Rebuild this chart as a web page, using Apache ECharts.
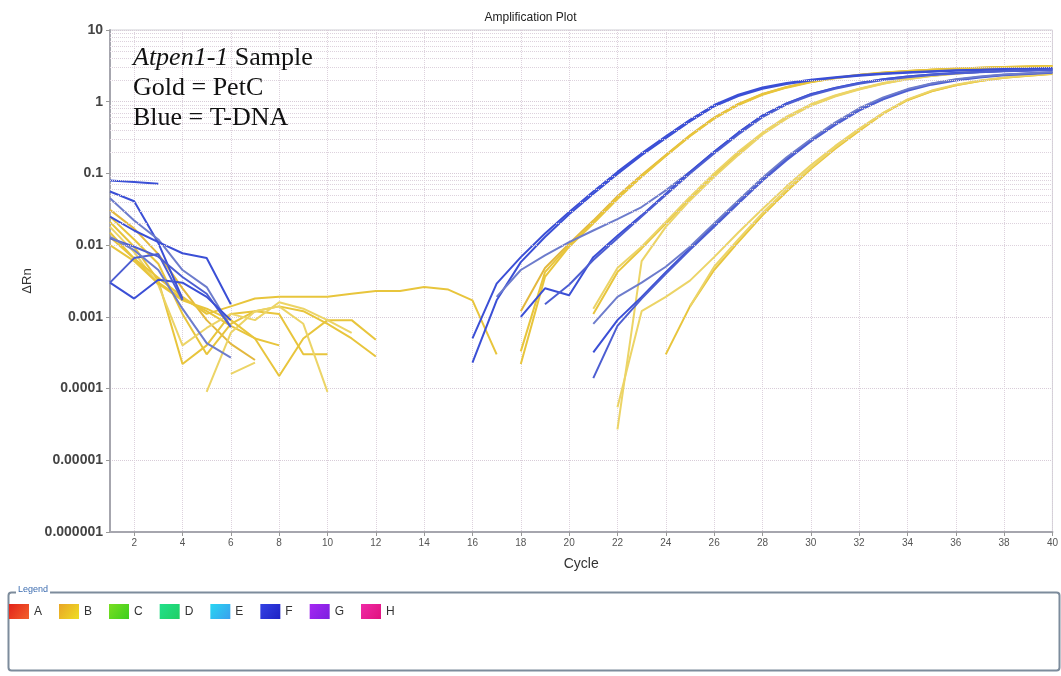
<!DOCTYPE html>
<html>
<head>
<meta charset="utf-8">
<script src="https://cdn.jsdelivr.net/npm/echarts@6/dist/echarts.min.js"></script>
<style>
html,body{margin:0;padding:0;background:#fff;}
#chart{width:1061px;height:676px;}
</style>
</head>
<body>
<div id="chart"></div>
<script>
const _ = null;

// Cycle categories (x axis)
const cycles = [1,2,3,4,5,6,7,8,9,10,11,12,13,14,15,16,17,18,19,20,21,22,23,24,25,26,27,28,29,30,31,32,33,34,35,36,37,38,39,40];

// Legend rows of the plate
const legendNames = ['A','B','C','D','E','F','G','H'];

// Y tick values (log scale)
const yTickValues = [0.000001, 0.00001, 0.0001, 0.001, 0.01, 0.1, 1, 10];

// ---- Blue wells (row F, T-DNA) : ΔRn per cycle 1..40 (null = not plotted) ----
const F_a = [0.08,0.076,0.072,_,_,_,_,_,_,_,_,_,_,_,_,
  0.0005,0.0029,0.0068,0.0145,0.029,0.056,0.105,0.19,0.33,0.56,0.9,1.25,1.58,1.82,2.02,2.2,2.35,2.48,2.58,2.67,2.74,2.8,2.86,2.9,2.95];
const F_b = [0.056,0.041,0.0107,0.0018,_,_,_,_,_,_,_,_,_,_,_,
  0.00023,0.0017,0.0058,0.013,0.027,0.052,0.098,0.18,0.31,0.53,0.86,1.2,1.52,1.77,1.97,2.15,2.3,2.43,2.53,2.62,2.7,2.76,2.82,2.86,2.9];
const F_c = [0.045,0.022,0.012,0.0045,0.0026,0.00072,_,_,_,_,_,_,_,_,_,_,
  0.0019,0.0045,0.0072,0.011,0.016,0.023,0.034,0.058,0.105,0.2,0.37,0.64,0.95,1.27,1.56,1.82,2.05,2.25,2.4,2.52,2.6,2.68,2.74,2.8];
const F_d = [0.025,0.016,0.011,0.0077,0.0066,0.0015,_,_,_,_,_,_,_,_,_,_,_,
  0.001,0.0025,0.002,0.0068,0.0135,0.026,0.052,0.105,0.2,0.37,0.64,0.95,1.27,1.56,1.82,2.05,2.25,2.4,2.52,2.6,2.68,2.74,2.8];
const F_e = [0.0125,0.0095,0.0069,0.0036,0.0021,0.00072,_,_,_,_,_,_,_,_,_,_,_,_,
  0.0015,0.0028,0.0062,0.0125,0.025,0.05,0.1,0.19,0.35,0.61,0.92,1.23,1.52,1.78,2.0,2.2,2.36,2.48,2.57,2.65,2.71,2.77];
const F_f = [0.003,0.0018,0.0033,0.003,0.0019,0.0009,_,_,_,_,_,_,_,_,_,_,_,_,_,_,
  0.00032,0.0009,0.0019,0.0042,0.009,0.019,0.04,0.083,0.16,0.29,0.49,0.78,1.12,1.47,1.78,2.03,2.22,2.37,2.48,2.57];
const F_g = [0.003,0.0066,0.0075,0.0017,_,_,_,_,_,_,_,_,_,_,_,_,_,_,_,_,
  0.00014,0.00075,0.0018,0.004,0.0086,0.018,0.038,0.079,0.153,0.28,0.47,0.75,1.08,1.42,1.73,1.98,2.18,2.33,2.44,2.53];
const F_h = [0.013,0.0085,0.0045,0.0013,0.00043,0.00027,_,_,_,_,_,_,_,_,_,_,_,_,_,_,
  0.0008,0.0019,0.003,0.005,0.0095,0.02,0.042,0.087,0.168,0.3,0.51,0.81,1.15,1.5,1.8,2.05,2.24,2.39,2.5,2.6];

// ---- Gold wells (row B, PetC) ----
const B_a = [0.031,0.017,0.0075,0.0025,0.0009,0.00042,0.00025,_,_,_,_,_,_,_,_,_,_,
  0.0012,0.0048,0.0105,0.022,0.048,0.095,0.18,0.34,0.6,0.93,1.28,1.6,1.9,2.15,2.37,2.55,2.69,2.8,2.9,2.98,3.05,3.1,3.15];
const B_b = [0.021,0.0095,0.0032,0.00022,0.0004,0.0011,0.0012,0.0014,0.0012,0.0008,0.0005,0.00028,_,_,_,_,_,
  0.00022,0.0036,0.0095,0.02,0.044,0.09,0.175,0.33,0.58,0.9,1.25,1.57,1.87,2.12,2.34,2.52,2.66,2.78,2.88,2.96,3.02,3.08,3.13];
const B_c = [0.013,0.0065,0.003,0.0018,0.0012,0.00075,0.0005,0.00015,0.0005,0.0009,0.0009,0.00048,_,_,_,_,_,
  0.00033,0.0042,0.01,0.021,0.046,0.092,0.178,0.335,0.59,0.92,1.27,1.59,1.89,2.14,2.36,2.54,2.68,2.79,2.89,2.97,3.04,3.09,3.14];
const B_d = [0.025,0.012,0.0055,0.0011,0.0003,0.0008,0.0012,0.0011,0.0003,0.0003,_,_,_,_,_,_,_,_,_,_,
  0.0011,0.0042,0.009,0.02,0.045,0.095,0.19,0.36,0.6,0.9,1.2,1.5,1.8,2.07,2.3,2.48,2.64,2.78,2.9,3.0];
const B_e = [_,_,_,_,0.00009,0.0006,0.0012,0.0014,0.0008,0.00009,_,_,_,_,_,_,_,_,_,_,
  0.0013,0.0048,0.0095,0.021,0.047,0.1,0.2,0.37,0.62,0.92,1.22,1.52,1.82,2.1,2.32,2.5,2.66,2.8,2.92,3.02];
const B_f = [_,_,_,_,_,0.00016,0.00023,_,_,_,_,_,_,_,_,_,_,_,_,_,_,
  0.000027,0.006,0.018,0.042,0.09,0.18,0.35,0.58,0.88,1.18,1.48,1.78,2.05,2.28,2.46,2.62,2.76,2.88,2.98];
const B_g = [0.018,0.008,0.0028,0.0004,0.0007,0.0011,0.0009,0.0016,0.0013,0.0009,0.0006,_,_,_,_,_,_,_,_,_,_,
  0.000055,0.0012,0.0019,0.0032,0.0068,0.015,0.032,0.066,0.13,0.24,0.42,0.7,1.06,1.4,1.7,1.95,2.15,2.3,2.45];
const B_h = [0.01,0.006,0.0029,0.0017,0.0013,0.0009,0.0005,0.0004,_,_,_,_,_,_,_,_,_,_,_,_,_,_,_,
  0.0003,0.0014,0.0045,0.011,0.026,0.056,0.115,0.22,0.39,0.68,1.05,1.4,1.7,1.95,2.15,2.3,2.44];
const B_i = [_,_,_,_,_,_,_,_,_,_,_,_,_,_,_,_,_,_,_,_,_,_,_,_,
  0.0014,0.005,0.012,0.028,0.06,0.12,0.23,0.41,0.7,1.08,1.43,1.73,1.98,2.18,2.33,2.47];
const B_j = [0.015,0.0065,0.0035,0.0019,0.0011,0.0014,0.0018,0.0019,0.0019,0.0019,0.0021,0.0023,0.0023,0.0026,0.0024,0.0017,0.0003,
  _,_,_,_,_,_,_,_,_,_,_,_,_,_,_,_,_,_,_,_,_,_,_];

const blueWells = [F_a, F_b, F_c, F_d, F_e, F_f, F_g, F_h];
const goldWells = [B_a, B_b, B_c, B_d, B_e, B_f, B_g, B_h, B_i, B_j];

// ---- styles ----
const BLUE = '#3b4fd6', BLUE2 = '#4d5ed2', SLATE = '#6d7ccc';
const GOLD = '#e8c53c', GOLD2 = '#e3b83e', GOLDL = '#ecd466';
const blueColors = [BLUE, BLUE, SLATE, BLUE, BLUE2, BLUE, BLUE2, SLATE];
const goldColors = [GOLD2, GOLD, GOLD, GOLD, GOLDL, GOLDL, GOLDL, GOLD, GOLDL, GOLD];

function grad(c1, c2) {
  return new echarts.graphic.LinearGradient(0, 0, 1, 1, [{offset:0,color:c1},{offset:1,color:c2}]);
}
const legendColors = {
  A: grad('#e3221a', '#f2622c'),
  B: grad('#e9a526', '#eede24'),
  C: grad('#7ade22', '#3ccf1e'),
  D: grad('#22e08a', '#1fcf66'),
  E: grad('#28d6f2', '#3aa0ee'),
  F: grad('#3442e4', '#1e22c4'),
  G: grad('#a628f2', '#7c20e0'),
  H: grad('#f02aa6', '#e0127e')
};

const chart = echarts.init(document.getElementById('chart'), null, {renderer: 'canvas'});

const evenOnly = function (index, value) { return Number(value) % 2 === 0; };

// minor log grid lines (2..9 x 10^k)
const minorY = [];
for (let k = -6; k <= 0; k++) {
  for (let m = 2; m <= 9; m++) minorY.push({ yAxis: Number((m * Math.pow(10, k)).toPrecision(3)) });
}

const series = [];
series.push({
  name: 'grid', type: 'line', data: [], silent: true, z: 1,
  markLine: {
    silent: true, symbol: ['none', 'none'], animation: false,
    label: { show: false },
    lineStyle: { color: '#ddd2dd', type: 'dotted', width: 1 },
    data: minorY
  }
});
goldWells.forEach(function (d, i) {
  series.push({
    name: 'B', type: 'line', data: d, symbol: 'none', showSymbol: false, connectNulls: false,
    lineStyle: { color: goldColors[i], width: 2 }, itemStyle: { color: GOLD },
    z: 3, silent: true, animation: false
  });
});
blueWells.forEach(function (d, i) {
  series.push({
    name: 'F', type: 'line', data: d, symbol: 'none', showSymbol: false, connectNulls: false,
    lineStyle: { color: blueColors[i], width: 2 }, itemStyle: { color: BLUE },
    z: 4, silent: true, animation: false
  });
});
['A','C','D','E','G','H'].forEach(function (n) {
  series.push({ name: n, type: 'line', data: [], symbol: 'none' });
});

chart.setOption({
  animation: false,
  backgroundColor: '#ffffff',
  title: {
    text: 'Amplification Plot', left: 'center', top: 7,
    textStyle: { fontSize: 12, fontWeight: 'normal', color: '#222', fontFamily: 'Liberation Sans, Arial, sans-serif' }
  },
  grid: { left: 110, right: 6, top: 30, bottom: 144, show: true, borderColor: '#cfcfd4', borderWidth: 1, containLabel: false },
  legend: {
    data: legendNames.map(function (n) { return { name: n, icon: 'rect', itemStyle: { color: legendColors[n] } }; }),
    left: 9, top: 604, padding: 0,
    itemWidth: 20, itemHeight: 15, itemGap: 17,
    selectedMode: false,
    textStyle: { fontSize: 12, color: '#333', fontFamily: 'Liberation Sans, Arial, sans-serif', padding: [1, 0, 0, 0] }
  },
  xAxis: {
    type: 'category', data: cycles, boundaryGap: false,
    name: 'Cycle', nameLocation: 'middle', nameGap: 25,
    nameTextStyle: { fontSize: 14, color: '#333', fontFamily: 'Liberation Sans, Arial, sans-serif' },
    axisLine: { show: true, lineStyle: { color: '#a6a6ae', width: 2 } },
    axisTick: { show: true, interval: evenOnly, length: 4, lineStyle: { color: '#999' } },
    axisLabel: { interval: evenOnly, fontSize: 10, color: '#555', margin: 6, fontFamily: 'Liberation Sans, Arial, sans-serif' },
    splitLine: { show: true, interval: evenOnly, lineStyle: { color: '#ddd2dd', type: 'dotted', width: 1 } }
  },
  yAxis: {
    type: 'log', logBase: 10, min: yTickValues[0], max: yTickValues[yTickValues.length - 1], splitNumber: 7,
    name: 'ΔRn', nameLocation: 'middle', nameGap: 66, nameRotate: 90,
    nameTextStyle: { fontSize: 13, color: '#333', fontFamily: 'Liberation Sans, Arial, sans-serif' },
    axisLine: { show: true, lineStyle: { color: '#a6a6ae', width: 2 } },
    axisTick: { show: true, length: 4, lineStyle: { color: '#999' } },
    axisLabel: {
      fontSize: 14, fontWeight: 'bold', color: '#444', margin: 7,
      fontFamily: 'Liberation Sans, Arial, sans-serif',
      formatter: function (v) {
        if (v >= 1) return String(Math.round(v));
        const d = Math.round(-Math.log10(v));
        return v.toFixed(d);
      }
    },
    splitLine: { show: true, lineStyle: { color: '#d8ccd8', type: 'dotted', width: 1 } }
  },
  graphic: [
    {
      type: 'text', left: 133, top: 43, z: 10, silent: true,
      style: {
        text: '{i|Atpen1-1} Sample\nGold = PetC\nBlue = T-DNA',
        fontSize: 26, fontFamily: 'Liberation Serif, Times New Roman, serif', fill: '#111', lineHeight: 30,
        rich: { i: { fontStyle: 'italic', fontSize: 26, fontFamily: 'Liberation Serif, Times New Roman, serif', fill: '#111', lineHeight: 30 } }
      }
    },
    {
      type: 'rect', left: 6, top: 590, z: 1, silent: true,
      shape: { x: 0, y: 0, width: 1051, height: 78, r: 3 },
      style: { fill: 'none', stroke: '#7d8c9c', lineWidth: 2 }
    },
    {
      type: 'text', left: 16, top: 585, z: 2, silent: true,
      style: { text: 'Legend', fontSize: 9, fill: '#3d6db0', fontFamily: 'Liberation Sans, Arial, sans-serif', backgroundColor: '#fff', padding: [0, 2] }
    }
  ],
  series: series
});
</script>
</body>
</html>
